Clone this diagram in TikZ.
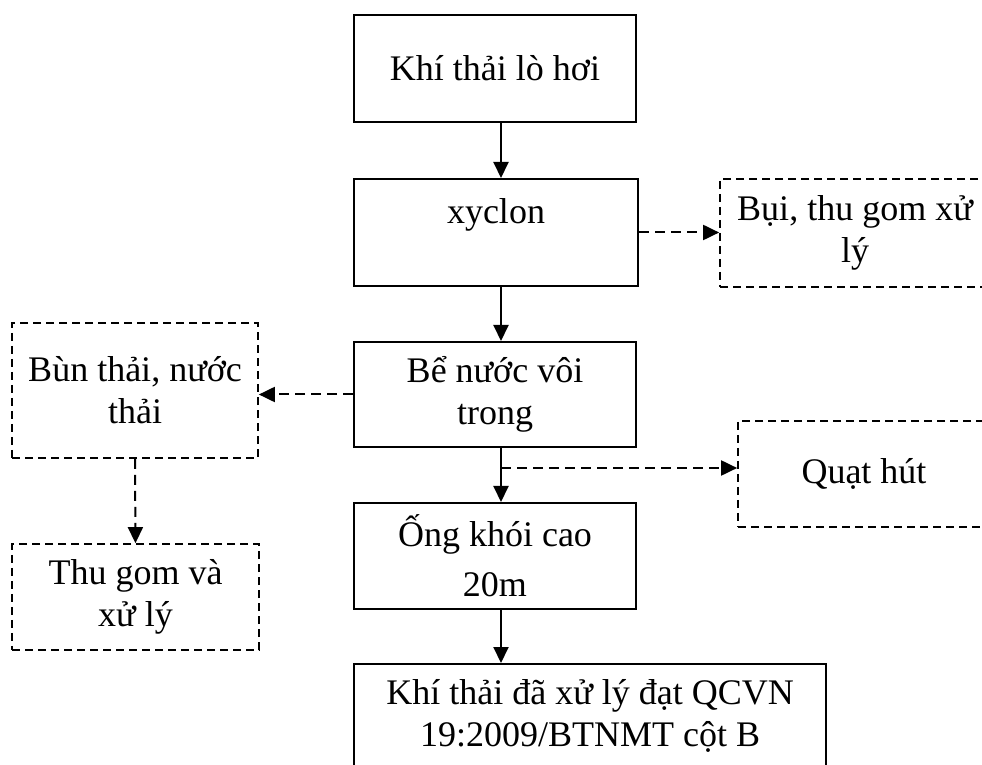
\documentclass[tikz,border=0pt]{standalone}
\usepackage{fontspec}
\setmainfont{Liberation Serif}
\usetikzlibrary{arrows.meta}
\begin{document}
\begin{tikzpicture}[x=0.5pt,y=-0.5pt,
  box/.style={draw,line width=1pt,align=center,inner sep=0pt,font=\fontsize{18}{21}\selectfont},
  dbox/.style={box,dash pattern=on 4pt off 2.5pt,line width=0.85pt},
  arr/.style={line width=1pt,-{Triangle[length=8pt,width=7.5pt]}},
  darr/.style={line width=1pt,dash pattern=on 5pt off 3pt,-{Triangle[length=8pt,width=7.5pt]}}]
\clip (0,0) rectangle (982,765);
\node[box,minimum width=141pt,minimum height=53.5pt] (b1) at (495,68.5) {Khí thải lò hơi};
\node[box,minimum width=142pt,minimum height=53.5pt] (b2) at (496,232.5) {xyclon\\[-6pt] \strut};
\node[box,minimum width=141pt,minimum height=52.5pt] (b3) at (495,394.5) {Bể nước vôi\\trong};
\node[box,minimum width=141pt,minimum height=53pt] (b4) at (495,556) {Ống khói cao\\[4pt]20m};
\node[box,minimum width=236pt,minimum height=76pt] (b5) at (590,740) {Khí thải đã xử lý đạt QCVN\\19:2009/BTNMT cột B\\ \strut};
\node[dbox,minimum width=135pt,minimum height=54pt] (bui) at (855,233) {Bụi, thu gom xử\\lý};
\node[dbox,minimum width=126pt,minimum height=53pt] (quat) at (864,474) {Quạt hút};
\node[dbox,minimum width=123pt,minimum height=67.5pt] (bun) at (135,390.5) {Bùn thải, nước\\thải};
\node[dbox,minimum width=123.5pt,minimum height=53pt] (thu) at (135.5,597) {Thu gom và\\xử lý};
\coordinate (ax) at (501,0);
\coordinate (j) at (501,468);
\draw[arr] (b1.south -| ax) -- (b2.north -| ax);
\draw[arr] (b2.south -| ax) -- (b3.north -| ax);
\draw[arr] (b3.south -| ax) -- (b4.north -| ax);
\draw[arr] (b4.south -| ax) -- (b5.north -| ax);
\draw[darr] (b2.east) -- (b2.east -| bui.west);
\draw[darr] (b3.west) -- (b3.west -| bun.east);
\draw[darr] (bun.south) -- (thu.north);
\draw[darr] (j) -- (j -| quat.west);
\end{tikzpicture}
\end{document}
